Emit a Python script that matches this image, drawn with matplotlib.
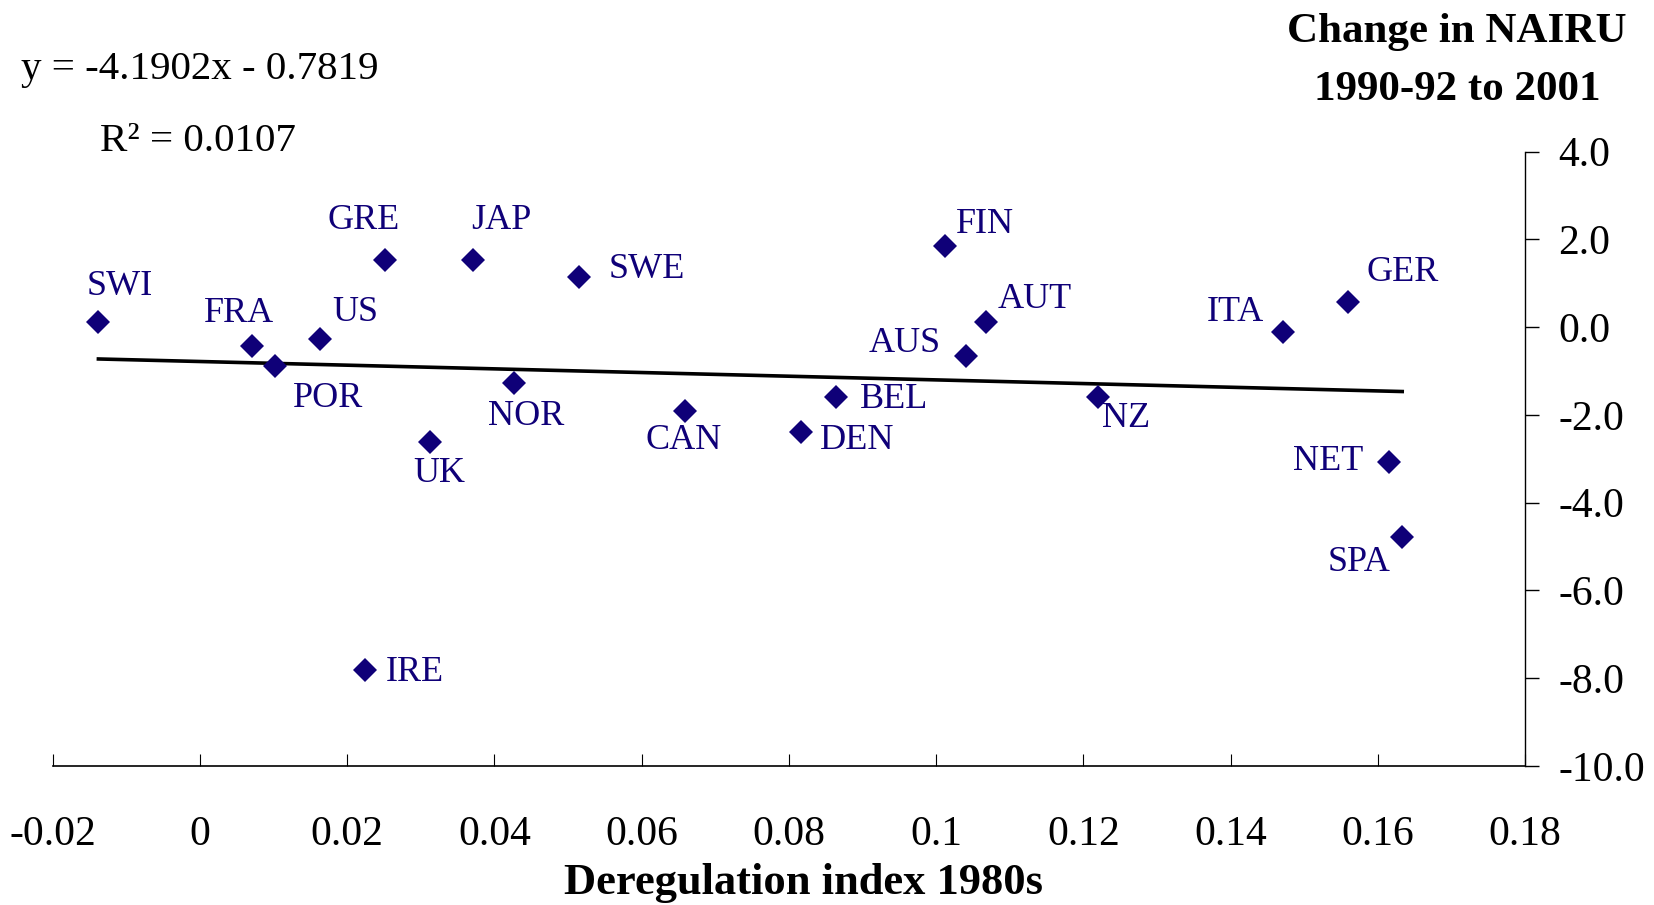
import matplotlib
matplotlib.use('Agg')
import matplotlib.pyplot as plt
import numpy as np

plt.rcParams['font.family'] = ['Liberation Serif', 'DejaVu Serif']
plt.rcParams['axes.unicode_minus'] = False

# data
countries = ['SWI', 'FRA', 'POR', 'US', 'GRE', 'UK', 'IRE', 'JAP', 'NOR', 'SWE', 'CAN',
             'DEN', 'BEL', 'FIN', 'AUS', 'AUT', 'NZ', 'ITA', 'GER', 'NET', 'SPA']
dereg = [-0.0138, 0.0071, 0.0102, 0.0163, 0.0251, 0.0312, 0.0224, 0.0371, 0.0427, 0.0515, 0.0659,
         0.0817, 0.0864, 0.1012, 0.1040, 0.1067, 0.1220, 0.1471, 0.1560, 0.1615, 0.1633]
nairu = [0.12, -0.42, -0.88, -0.28, 1.52, -2.61, -7.82, 1.52, -1.28, 1.14, -1.90,
         -2.38, -1.59, 1.84, -0.66, 0.12, -1.59, -0.12, 0.58, -3.08, -4.79]

slope, intercept, r2 = -4.1902, -0.7819, 0.0107

xticks = [-0.02, 0, 0.02, 0.04, 0.06, 0.08, 0.1, 0.12, 0.14, 0.16, 0.18]
xtick_labels = ['-0.02', '0', '0.02', '0.04', '0.06', '0.08', '0.1', '0.12', '0.14', '0.16', '0.18']
yticks = [4, 2, 0, -2, -4, -6, -8, -10]

# label placement (pixels from marker centre, baseline), alignment
label_pos = {
    'SWI': (-12, 27, 'left'), 'FRA': (-48, 24, 'left'), 'US': (12, 18, 'left'),
    'POR': (18, -41, 'left'), 'GRE': (-57, 31, 'left'), 'JAP': (-2, 31, 'left'),
    'SWE': (29, -1, 'left'), 'NOR': (-26, -42, 'left'), 'CAN': (-40, -38, 'left'),
    'UK': (-16, -40, 'left'), 'IRE': (21, -11, 'left'), 'FIN': (11, 13, 'left'),
    'AUT': (12, 14, 'left'), 'AUS': (-25, 4, 'right'), 'BEL': (24, -11, 'left'),
    'DEN': (18, -17, 'left'), 'NZ': (4, -30, 'left'), 'ITA': (-19, 11, 'right'),
    'GER': (18, 21, 'left'), 'NET': (-26, -8, 'right'), 'SPA': (-12, -34, 'right'),
}

navy = '#0f0078'

fig = plt.figure(figsize=(16.54, 9.05), dpi=100)
ax = fig.add_axes([0.0319, 0.1536, 0.8902, 0.6788])

ax.plot(dereg, nairu, linestyle='none', marker='D', markersize=11.8,
        markeredgewidth=0, color=navy, zorder=3)

xs = np.array([min(dereg), max(dereg)])
ax.plot(xs, slope * xs + intercept, color='black', lw=2.6, zorder=2)

for name, x, y in zip(countries, dereg, nairu):
    dx, dy, ha = label_pos[name]
    ax.annotate(name, (x, y), xytext=(dx, dy), textcoords='offset pixels',
                ha=ha, va='baseline', fontsize=26, color=navy)

ax.set_xlim(-0.02, 0.18)
ax.set_ylim(-10, 4)
ax.spines['top'].set_visible(False)
ax.spines['left'].set_visible(False)
ax.spines['bottom'].set_linewidth(1.2)
ax.spines['right'].set_linewidth(1.0)

ax.yaxis.tick_right()
ax.set_yticks(yticks)
ax.set_yticklabels(['%.1f' % v for v in yticks])
ax.tick_params(axis='y', direction='out', length=10, width=1, pad=14, labelsize=30)
ax.set_xticks(xticks)
ax.set_xticklabels(xtick_labels)
ax.tick_params(axis='x', direction='in', length=8.5, width=0.8, pad=36, labelsize=30)

ax.set_xlabel('Deregulation index 1980s', fontsize=32, fontweight='bold', va='baseline')
ax.xaxis.set_label_coords(804 / 1654, 1 - 894 / 905, transform=fig.transFigure)

fig.text(1457 / 1654, 1 - 42 / 905, 'Change in NAIRU', ha='center', va='baseline',
         fontsize=31, fontweight='bold')
fig.text(1457 / 1654, 1 - 100 / 905, '1990-92 to 2001', ha='center', va='baseline',
         fontsize=31, fontweight='bold')

fig.text(21 / 1654, 1 - 79 / 905, 'y = %.4fx - %.4f' % (slope, -intercept),
         ha='left', va='baseline', fontsize=29.5)
fig.text(100 / 1654, 1 - 151 / 905, 'R² = %.4f' % r2,
         ha='left', va='baseline', fontsize=29.5)

fig.savefig('out.png', dpi=100)
